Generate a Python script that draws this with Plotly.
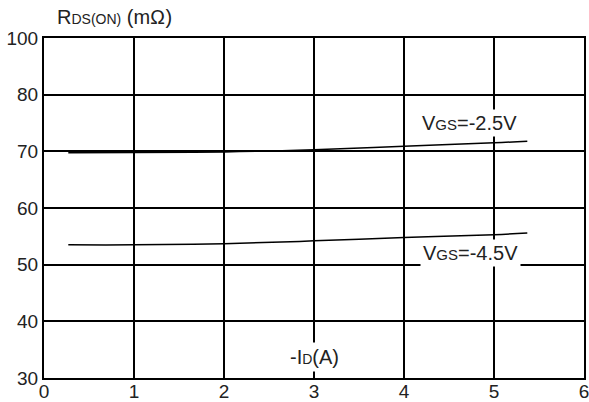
import plotly.graph_objects as go

### Data

current = [0.27, 1, 2, 3, 4, 5, 5.37]
rds_vgs_25 = [69.75, 69.8, 69.9, 70.3, 70.9, 71.5, 71.8]
rds_vgs_45 = [53.5, 53.5, 53.7, 54.2, 54.8, 55.3, 55.6]

x_ticks = [0, 1, 2, 3, 4, 5, 6]
y_ticks = [30, 40, 50, 60, 70, 80, 90]
y_tick_text = ['30', '40', '50', '60', '70', '80', '100']

font_family = 'Liberation Sans, Arial, sans-serif'
text_color = '#222222'

fig = go.Figure()
fig.add_trace(go.Scatter(
    x=current, y=rds_vgs_25, mode='lines',
    line=dict(color='black', width=1.5, shape='spline'),
    name='VGS=-2.5V'
    ))
fig.add_trace(go.Scatter(
    x=current, y=rds_vgs_45, mode='lines',
    line=dict(color='black', width=1.5, shape='spline'),
    name='VGS=-4.5V'
    ))

fig.add_annotation(
    x=4.73, y=75.0, xref='x', yref='y',
    text="V<span style='font-size:15px'>GS</span>=-2.5V",
    showarrow=False, bgcolor='white', borderpad=2,
    font=dict(size=20, color=text_color, family=font_family)
    )
fig.add_annotation(
    x=4.74, y=52.1, xref='x', yref='y',
    text="V<span style='font-size:15px'>GS</span>=-4.5V",
    showarrow=False, bgcolor='white', borderpad=2,
    font=dict(size=20, color=text_color, family=font_family)
    )
fig.add_annotation(
    x=3.01, y=33.7, xref='x', yref='y',
    text="-I<span style='font-size:14px'>D</span>(A)",
    showarrow=False, bgcolor='white', borderpad=3,
    font=dict(size=20, color=text_color, family=font_family)
    )
fig.add_annotation(
    x=0.13, y=1.062, xref='paper', yref='paper',
    xanchor='center', yanchor='middle',
    text="R<span style='font-size:14px'>DS(ON)</span> (m\u2126)",
    showarrow=False,
    font=dict(size=20, color=text_color, family=font_family)
    )

fig.update_xaxes(
    range=[0, 6], tickvals=x_ticks, showgrid=True, gridcolor='black', gridwidth=1.5,
    showline=True, linecolor='black', linewidth=2, mirror=True, zeroline=False,
    ticks='', automargin=False, ticklabeloverflow='allow', ticklabelstandoff=-5,
    tickfont=dict(size=19, color=text_color, family=font_family)
    )
fig.update_yaxes(
    range=[30, 90], tickvals=y_ticks, ticktext=y_tick_text,
    showgrid=True, gridcolor='black', gridwidth=1.5,
    showline=True, linecolor='black', linewidth=2, mirror=True, zeroline=False,
    ticks='', automargin=False, ticklabeloverflow='allow', ticklabelstandoff=0,
    tickfont=dict(size=19, color=text_color, family=font_family)
    )

fig.update_layout(
    width=589, height=402, showlegend=False,
    plot_bgcolor='white', paper_bgcolor='white',
    margin=dict(l=44, r=5, t=38, b=24),
    font=dict(family=font_family, color=text_color)
    )

# page has a default body margin, drop it so the chart sits at 0,0
fig.write_html('out.html', config={'displayModeBar': False},
               post_script="document.body.style.margin='0';")
